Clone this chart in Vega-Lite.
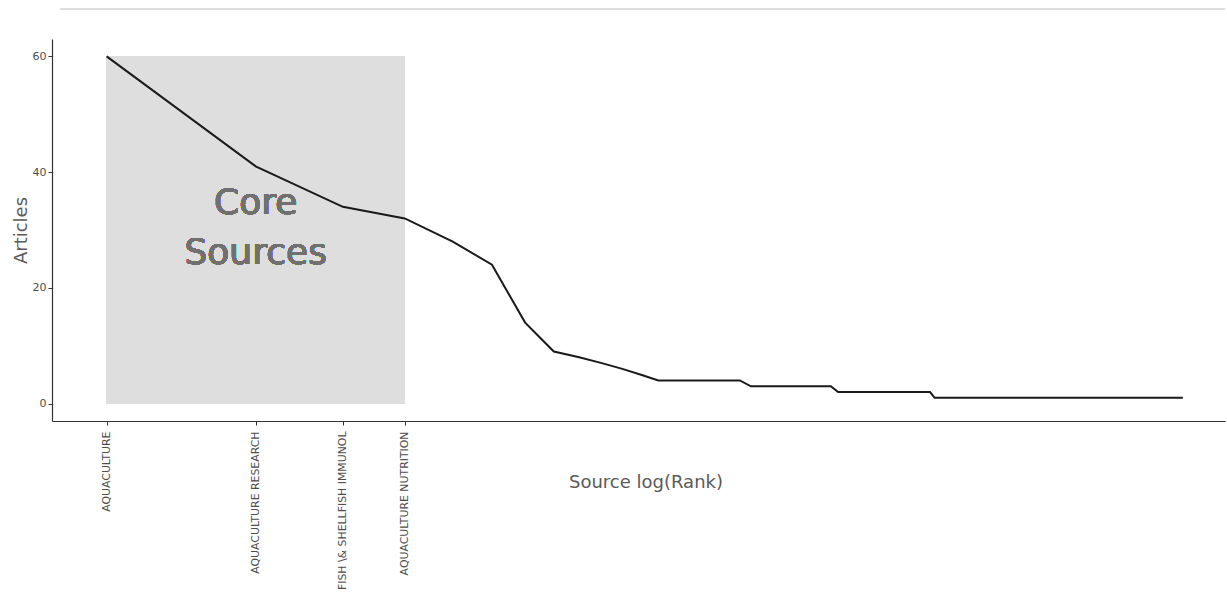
{
  "$schema": "https://vega.github.io/schema/vega-lite/v6.json",
  "width": 1173,
  "height": 382,
  "autosize": {"type": "none"},
  "padding": {"left": 52, "top": 39, "right": 2, "bottom": 172},
  "background": "white",
  "config": {
    "view": {"stroke": null},
    "font": "DejaVu Sans",
    "axis": {"grid": false}
  },
  "data": {
    "values": [
      {"rank": 1, "articles": 60}, {"rank": 2, "articles": 41}, {"rank": 3, "articles": 34}, {"rank": 4, "articles": 32},
      {"rank": 5, "articles": 28}, {"rank": 6, "articles": 24}, {"rank": 7, "articles": 14}, {"rank": 8, "articles": 9},
      {"rank": 9, "articles": 8}, {"rank": 10, "articles": 7}, {"rank": 11, "articles": 6}, {"rank": 12, "articles": 5},
      {"rank": 13, "articles": 4}, {"rank": 14, "articles": 4}, {"rank": 15, "articles": 4}, {"rank": 16, "articles": 4},
      {"rank": 17, "articles": 4}, {"rank": 18, "articles": 4}, {"rank": 19, "articles": 4},
      {"rank": 20, "articles": 3}, {"rank": 21, "articles": 3}, {"rank": 22, "articles": 3}, {"rank": 23, "articles": 3},
      {"rank": 24, "articles": 3}, {"rank": 25, "articles": 3}, {"rank": 26, "articles": 3}, {"rank": 27, "articles": 3},
      {"rank": 28, "articles": 3}, {"rank": 29, "articles": 3},
      {"rank": 30, "articles": 2}, {"rank": 31, "articles": 2}, {"rank": 32, "articles": 2}, {"rank": 33, "articles": 2},
      {"rank": 34, "articles": 2}, {"rank": 35, "articles": 2}, {"rank": 36, "articles": 2}, {"rank": 37, "articles": 2},
      {"rank": 38, "articles": 2}, {"rank": 39, "articles": 2}, {"rank": 40, "articles": 2}, {"rank": 41, "articles": 2},
      {"rank": 42, "articles": 2}, {"rank": 43, "articles": 2}, {"rank": 44, "articles": 2}, {"rank": 45, "articles": 2},
      {"rank": 46, "articles": 2},
      {"rank": 47, "articles": 1}, {"rank": 48, "articles": 1}, {"rank": 49, "articles": 1}, {"rank": 50, "articles": 1},
      {"rank": 51, "articles": 1}, {"rank": 52, "articles": 1}, {"rank": 53, "articles": 1}, {"rank": 54, "articles": 1},
      {"rank": 55, "articles": 1}, {"rank": 56, "articles": 1}, {"rank": 57, "articles": 1}, {"rank": 58, "articles": 1},
      {"rank": 59, "articles": 1}, {"rank": 60, "articles": 1}, {"rank": 61, "articles": 1}, {"rank": 62, "articles": 1},
      {"rank": 63, "articles": 1}, {"rank": 64, "articles": 1}, {"rank": 65, "articles": 1}, {"rank": 66, "articles": 1},
      {"rank": 67, "articles": 1}, {"rank": 68, "articles": 1}, {"rank": 69, "articles": 1}, {"rank": 70, "articles": 1},
      {"rank": 71, "articles": 1}, {"rank": 72, "articles": 1}, {"rank": 73, "articles": 1}, {"rank": 74, "articles": 1},
      {"rank": 75, "articles": 1}, {"rank": 76, "articles": 1}, {"rank": 77, "articles": 1}, {"rank": 78, "articles": 1},
      {"rank": 79, "articles": 1}, {"rank": 80, "articles": 1}, {"rank": 81, "articles": 1}, {"rank": 82, "articles": 1},
      {"rank": 83, "articles": 1}, {"rank": 84, "articles": 1}, {"rank": 85, "articles": 1}, {"rank": 86, "articles": 1},
      {"rank": 87, "articles": 1}, {"rank": 88, "articles": 1}, {"rank": 89, "articles": 1}, {"rank": 90, "articles": 1},
      {"rank": 91, "articles": 1}, {"rank": 92, "articles": 1}, {"rank": 93, "articles": 1}, {"rank": 94, "articles": 1},
      {"rank": 95, "articles": 1}, {"rank": 96, "articles": 1}, {"rank": 97, "articles": 1}, {"rank": 98, "articles": 1},
      {"rank": 99, "articles": 1}, {"rank": 100, "articles": 1}, {"rank": 101, "articles": 1}, {"rank": 102, "articles": 1},
      {"rank": 103, "articles": 1}, {"rank": 104, "articles": 1}, {"rank": 105, "articles": 1}, {"rank": 106, "articles": 1},
      {"rank": 107, "articles": 1}, {"rank": 108, "articles": 1}, {"rank": 109, "articles": 1}, {"rank": 110, "articles": 1},
      {"rank": 111, "articles": 1}, {"rank": 112, "articles": 1}, {"rank": 113, "articles": 1}, {"rank": 114, "articles": 1},
      {"rank": 115, "articles": 1}, {"rank": 116, "articles": 1}, {"rank": 117, "articles": 1}, {"rank": 118, "articles": 1},
      {"rank": 119, "articles": 1}, {"rank": 120, "articles": 1}, {"rank": 121, "articles": 1}, {"rank": 122, "articles": 1},
      {"rank": 123, "articles": 1}, {"rank": 124, "articles": 1}, {"rank": 125, "articles": 1}, {"rank": 126, "articles": 1},
      {"rank": 127, "articles": 1}, {"rank": 128, "articles": 1}, {"rank": 129, "articles": 1}, {"rank": 130, "articles": 1},
      {"rank": 131, "articles": 1}, {"rank": 132, "articles": 1}, {"rank": 133, "articles": 1}, {"rank": 134, "articles": 1},
      {"rank": 135, "articles": 1}, {"rank": 136, "articles": 1}, {"rank": 137, "articles": 1}, {"rank": 138, "articles": 1},
      {"rank": 139, "articles": 1}, {"rank": 140, "articles": 1}, {"rank": 141, "articles": 1}, {"rank": 142, "articles": 1},
      {"rank": 143, "articles": 1}, {"rank": 144, "articles": 1}, {"rank": 145, "articles": 1}, {"rank": 146, "articles": 1},
      {"rank": 147, "articles": 1}, {"rank": 148, "articles": 1}, {"rank": 149, "articles": 1}
    ]
  },
  "layer": [
    {
      "mark": {"type": "rule", "color": "#dcdcdc", "strokeWidth": 1.5, "clip": false},
      "encoding": {
        "x": {"datum": 0.805, "type": "quantitative"},
        "x2": {"datum": 181},
        "y": {"datum": 68.2, "type": "quantitative"}
      }
    },
    {
      "mark": {"type": "rect", "color": "#dedede"},
      "encoding": {
        "x": {"datum": 1, "type": "quantitative"},
        "x2": {"datum": 4},
        "y": {"datum": 0, "type": "quantitative"},
        "y2": {"datum": 60}
      }
    },
    {
      "mark": {"type": "line", "color": "#1a1a1a", "strokeWidth": 2},
      "encoding": {
        "x": {
          "field": "rank",
          "type": "quantitative",
          "scale": {"type": "log", "domain": [0.7757, 181.3], "nice": false, "zero": false},
          "axis": {
            "values": [1, 2, 3, 4],
            "labelExpr": "datum.value == 1 ? 'AQUACULTURE' : datum.value == 2 ? 'AQUACULTURE RESEARCH' : datum.value == 3 ? 'FISH \\\\& SHELLFISH IMMUNOL' : 'AQUACULTURE NUTRITION'",
            "labelAngle": -90,
            "labelAlign": "right",
            "labelBaseline": "middle",
            "labelFontSize": 10.9,
            "labelColor": "#4d4d4d",
            "labelPadding": 6,
            "labelOverlap": false,
            "labelBound": false,
            "labelFlush": false,
            "tickSize": 4,
            "tickColor": "#333333",
            "domainColor": "#333333",
            "domainWidth": 1.2,
            "title": "Source log(Rank)",
            "titleFontSize": 18,
            "titleFontWeight": "normal",
            "titleColor": "#5a5a5a",
            "titleX": 593.5,
            "titleY": 66.5,
            "titleAlign": "center",
            "titleBaseline": "alphabetic"
          }
        },
        "y": {
          "field": "articles",
          "type": "quantitative",
          "scale": {"domain": [-3, 63], "nice": false, "zero": false},
          "axis": {
            "values": [0, 20, 40, 60],
            "labelFontSize": 11,
            "labelColor": "#4d4d4d",
            "labelPadding": 2,
            "tickSize": 4,
            "tickColor": "#333333",
            "domainColor": "#333333",
            "domainWidth": 1.2,
            "title": "Articles",
            "titleFontSize": 18,
            "titleFontWeight": "normal",
            "titleColor": "#5a5a5a",
            "titleAngle": -90,
            "titleX": -31,
            "titleY": 191,
            "titleAlign": "center",
            "titleBaseline": "middle"
          }
        }
      }
    },
    {
      "mark": {"type": "text", "fontSize": 36, "color": "#707070", "lineHeight": 50, "baseline": "middle", "align": "center", "lineBreak": "\n", "font": "DejaVu Sans"},
      "encoding": {
        "x": {"datum": 2, "type": "quantitative"},
        "y": {"datum": 34.7, "type": "quantitative"},
        "text": {"value": "Core\nSources"}
      }
    }
  ]
}
